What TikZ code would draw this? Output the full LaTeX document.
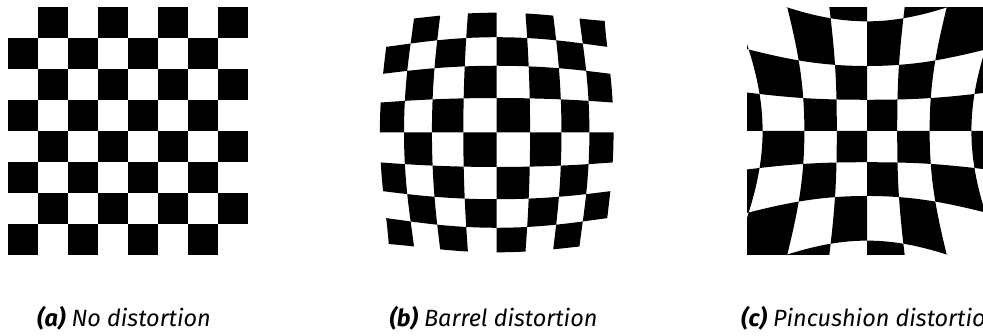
\documentclass[tikz,border=0pt]{standalone}
\usepackage{fontspec}
\setmainfont{Fira Sans}
\tikzset{
  captext/.style={font=\fontsize{23.5}{28}\selectfont\itshape, inner sep=0pt, text=black},
  sq/.style={fill=black},
}
\newcommand\dcell[2]{%
  \fill plot[domain=0:1,samples=#2,variable=\t] ({#1X(\xa+0.3*\t,\ya)},{#1Y(\xa+0.3*\t,\ya)})
     -- plot[domain=0:1,samples=#2,variable=\t] ({#1X(\xb,\ya+0.31*\t)},{#1Y(\xb,\ya+0.31*\t)})
     -- plot[domain=0:1,samples=#2,variable=\t] ({#1X(\xb-0.3*\t,\yb)},{#1Y(\xb-0.3*\t,\yb)})
     -- plot[domain=0:1,samples=#2,variable=\t] ({#1X(\xa,\yb-0.31*\t)},{#1Y(\xa,\yb-0.31*\t)})
     -- cycle;}
\begin{document}
\begin{tikzpicture}[x=1pt,y=1pt,
  declare function={
    SB(\u)=1.1246-0.13228*\u+0.01909*\u*\u;
    SP(\u)=1+0.06*\u+0.17*\u*\u;
    BX(\x,\y)=\x*SB(\x*\x+\y*\y);
    BY(\x,\y)=\y*SB(\x*\x+\y*\y);
    PX(\x,\y)=\x*SP(\x*\x+\y*\y);
    PY(\x,\y)=\y*SP(\x*\x+\y*\y);
  }]
\useasboundingbox (0,0) rectangle (983,336);
% (a) no distortion
\foreach \r in {0,...,7}{\foreach \c in {0,...,7}{
  \pgfmathtruncatemacro\odd{mod(\r+\c,2)}
  \ifnum\odd=1
    \fill[sq] ({7.5+30*\c},{328.5-31*\r}) rectangle ++(30,-31);
  \fi
}}
% (b) barrel distortion
\begin{scope}[shift={(496.7pt,203.5pt)},x=100pt,y=100pt]
\foreach \r in {0,...,7}{\foreach \c in {0,...,7}{
  \pgfmathtruncatemacro\odd{mod(\r+\c,2)}
  \ifnum\odd=1
    \pgfmathsetmacro\xa{-1.2+0.3*\c}
    \pgfmathsetmacro\xb{\xa+0.3}
    \pgfmathsetmacro\yb{1.24-0.31*\r}
    \pgfmathsetmacro\ya{\yb-0.31}
    \dcell{B}{9}
  \fi
}}
\end{scope}
% (c) pincushion distortion
\begin{scope}
\clip (747,81.5) rectangle (987,328.7);
\begin{scope}[shift={(867pt,205pt)},x=100pt,y=100pt]
\foreach \r in {0,...,7}{\foreach \c in {0,...,7}{
  \pgfmathtruncatemacro\odd{mod(\r+\c,2)}
  \ifnum\odd=1
    \pgfmathsetmacro\xa{-1.2+0.3*\c}
    \pgfmathsetmacro\xb{\xa+0.3}
    \pgfmathsetmacro\yb{1.24-0.31*\r}
    \pgfmathsetmacro\ya{\yb-0.31}
    \dcell{P}{16}
  \fi
}}
\end{scope}
\end{scope}
% captions
\node[captext,anchor=base] (capa) at (124,9.5) {{\bfseries(a)} No distortion};
\node[captext,anchor=base] (capb) at (493.5,9.5) {{\bfseries(b)} Barrel distortion};
\node[captext,anchor=base west] (capc) at (741,9.5) {{\bfseries(c)} Pincushion distortion};
\end{tikzpicture}
\end{document}
